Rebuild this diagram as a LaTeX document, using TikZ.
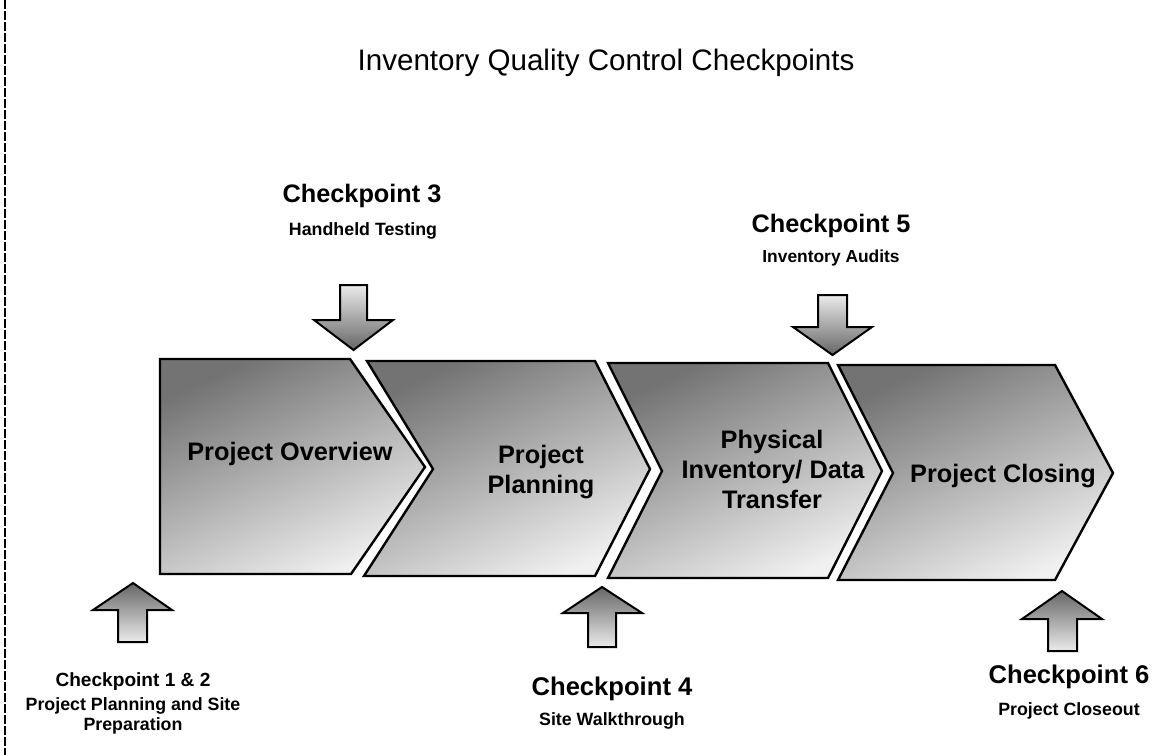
\documentclass[tikz,border=0pt]{standalone}
\usepackage{fontspec}
\setmainfont{Liberation Sans}
\begin{document}
\begin{tikzpicture}[x=1pt,y=-1pt,
  chev/.style={draw=black,line width=2.4pt,line join=miter,top color=black!55,bottom color=black!6,shading angle=25},
  dnarrow/.style={draw=black,line width=2pt,line join=miter,top color=black!8,bottom color=black!60},
  uparrow/.style={draw=black,line width=2pt,line join=miter,top color=black!60,bottom color=black!8},
  ttl/.style={anchor=base,inner sep=0pt,font=\fontsize{29.6}{34}\selectfont},
  cpbig/.style={anchor=base,inner sep=0pt,font=\fontsize{25.3}{30}\selectfont\bfseries},
  cpsub/.style={anchor=base,inner sep=0pt,font=\fontsize{17.8}{21}\selectfont\bfseries},
  chtxt/.style={anchor=base,inner sep=0pt,font=\fontsize{25.3}{30}\selectfont\bfseries}]
\useasboundingbox (0,0) rectangle (1152,755);
\fill[white] (0,0) rectangle (1152,755);
% left border
\coordinate (bt) at (5,0);
\coordinate (bb) at (5,755);
\draw[line width=1.6pt,dash pattern=on 9pt off 2pt] (bt) -- (bb);
% title
\node[ttl] (title) at (606,70) {Inventory Quality Control Checkpoints};
% chevrons
\draw[chev] (160,359) -- (350,359) -- (425,467) -- (351,574) -- (160,574) -- cycle;
\draw[chev] (367,361) -- (595,361) -- (650,469) -- (595,576) -- (364,576) -- (433,469) -- cycle;
\draw[chev] (608,363) -- (828,363) -- (882,471) -- (828,578) -- (608,578) -- (662,471) -- cycle;
\draw[chev] (838,365) -- (1055,365) -- (1113,473) -- (1055,580) -- (838,580) -- (893,473) -- cycle;
% chevron texts
\node[chtxt] (c1) at (290,460) {Project Overview};
\node[chtxt] (c2a) at (541,463) {Project};
\node[chtxt] (c2b) at (541,493) {Planning};
\node[chtxt] (c3a) at (772,448) {Physical};
\node[chtxt] (c3b) at (773,478) {Inventory/ Data};
\node[chtxt] (c3c) at (772,508) {Transfer};
\node[chtxt] (c4) at (1003,482) {Project Closing};
% down arrows
\draw[dnarrow] (340,285) -- (367,285) -- (367,320) -- (393,320) -- (353.5,350) -- (314,320) -- (340,320) -- cycle;
\draw[dnarrow] (818,295) -- (847,295) -- (847,327) -- (872,327) -- (832.5,355) -- (793,327) -- (818,327) -- cycle;
% up arrows
\draw[uparrow] (133,583) -- (172,610) -- (147,610) -- (147,642) -- (118,642) -- (118,610) -- (93,610) -- cycle;
\draw[uparrow] (602,587) -- (642,613) -- (616,613) -- (616,647) -- (588,647) -- (588,613) -- (563,613) -- cycle;
\draw[uparrow] (1062,591) -- (1102,619) -- (1077,619) -- (1077,651) -- (1048,651) -- (1048,619) -- (1022,619) -- cycle;
% checkpoint labels
\node[cpbig] (cp3) at (362,202) {Checkpoint 3};
\node[cpsub] (cp3s) at (363,235) {Handheld Testing};
\node[cpbig] (cp5) at (831,232) {Checkpoint 5};
\node[cpsub,font=\fontsize{17.4}{21}\selectfont\bfseries] (cp5s) at (831,262) {Inventory Audits};
\node[cpsub,font=\fontsize{19.1}{23}\selectfont\bfseries] (cp12) at (133,686) {Checkpoint 1 \& 2};
\node[cpsub] (cp12s) at (133,710) {Project Planning and Site};
\node[cpsub] (cp12t) at (133,730) {Preparation};
\node[cpbig,font=\fontsize{25.6}{30}\selectfont\bfseries] (cp4) at (612,695) {Checkpoint 4};
\node[cpsub] (cp4s) at (612,725) {Site Walkthrough};
\node[cpbig,font=\fontsize{25.6}{30}\selectfont\bfseries] (cp6) at (1069,683) {Checkpoint 6};
\node[cpsub] (cp6s) at (1069,715) {Project Closeout};
\end{tikzpicture}
\end{document}
